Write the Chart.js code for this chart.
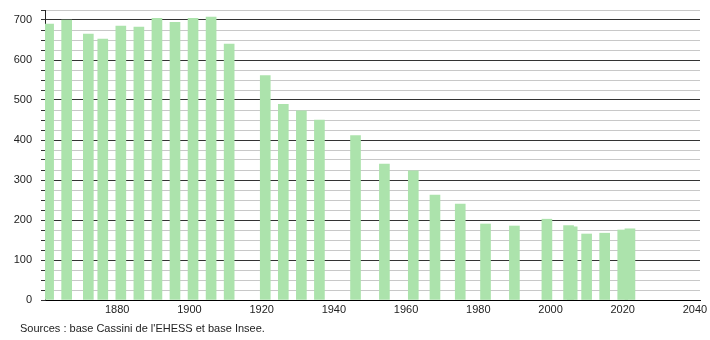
<!DOCTYPE html>
<html>
<head>
<meta charset="utf-8">
<script src="https://cdn.jsdelivr.net/npm/chart.js@4/dist/chart.umd.min.js"></script>
<style>
  body { margin: 0; background: #fff; }
  #wrap { position: relative; width: 710px; height: 340px; }
  #source {
    position: absolute; left: 20px; top: 322px;
    font: 11px "Liberation Sans", Arial, sans-serif; color: #222;
  }
</style>
</head>
<body>
<div id="wrap">
  <canvas id="chart-pop" width="710" height="340"></canvas>
  <div id="source">Sources : base Cassini de l'EHESS et base Insee.</div>
</div>
<script>
const years = [1861, 1866, 1872, 1876, 1881, 1886, 1891, 1896, 1901, 1906, 1911,
    1921, 1926, 1931, 1936, 1946, 1954, 1962, 1968, 1975, 1982, 1990, 1999,
    2005, 2006, 2010, 2015, 2020, 2022];
const population = [690, 700, 665, 652, 685, 682, 704, 694, 704, 707, 640,
    561, 489, 473, 450, 411, 340, 323, 262, 240, 190, 185, 202,
    186, 183, 165, 167, 175, 178];
const xTicks = [1880, 1900, 1920, 1940, 1960, 1980, 2000, 2020, 2040];
const yMajor = [0, 100, 200, 300, 400, 500, 600, 700];
// minor grid every 25 inhabitants
const yGrid = [];
for (let v = 0; v <= 725; v += 25) yGrid.push(v);

const font = { family: "'Liberation Sans', Arial, sans-serif", size: 11 };

function renderChart() {
    new Chart('chart-pop', {
        type: 'bar',
        data: {
            datasets: [{
                data: years.map((y, i) => ({ x: y, y: population[i] })),
                backgroundColor: 'rgb(172,227,172)',
                barThickness: 10,
                borderWidth: 0
            }]
        },
        options: {
            responsive: false,
            animation: false,
            devicePixelRatio: 1,
            layout: { padding: { top: 10, right: 10, left: 0, bottom: 0 } },
            plugins: { legend: { display: false }, tooltip: { enabled: false } },
            scales: {
                x: {
                    type: 'linear',
                    offset: false,
                    min: 1860,
                    max: 2041.4,
                    afterBuildTicks: axis => { axis.ticks = xTicks.map(v => ({ value: v })); },
                    afterFit: axis => { axis.height = 40; axis.paddingLeft = 0; axis.paddingRight = 0; },
                    grid: { display: false, drawTicks: false, offset: false },
                    border: { display: true, color: '#000', width: 1 },
                    ticks: { color: '#222', font: font, padding: 3, maxRotation: 0,
                             autoSkip: false, callback: v => String(v) }
                },
                y: {
                    min: 0,
                    max: 725,
                    afterBuildTicks: axis => { axis.ticks = yGrid.map(v => ({ value: v })); },
                    afterFit: axis => { axis.width = 45; axis.paddingTop = 0; axis.paddingBottom = 0; },
                    ticks: {
                        color: '#222',
                        font: font,
                        padding: 9,
                        autoSkip: false,
                        callback: v => yMajor.includes(v) ? String(v) : ''
                    },
                    grid: {
                        color: ctx => (ctx.tick && ctx.tick.value % 100 === 0) ? '#333' : '#c8c8c8',
                        tickColor: '#333',
                        tickLength: 4,
                        lineWidth: 1
                    },
                    border: { display: true, color: '#222', width: 1 }
                }
            }
        }
    });
}

renderChart();
</script>
</body>
</html>
